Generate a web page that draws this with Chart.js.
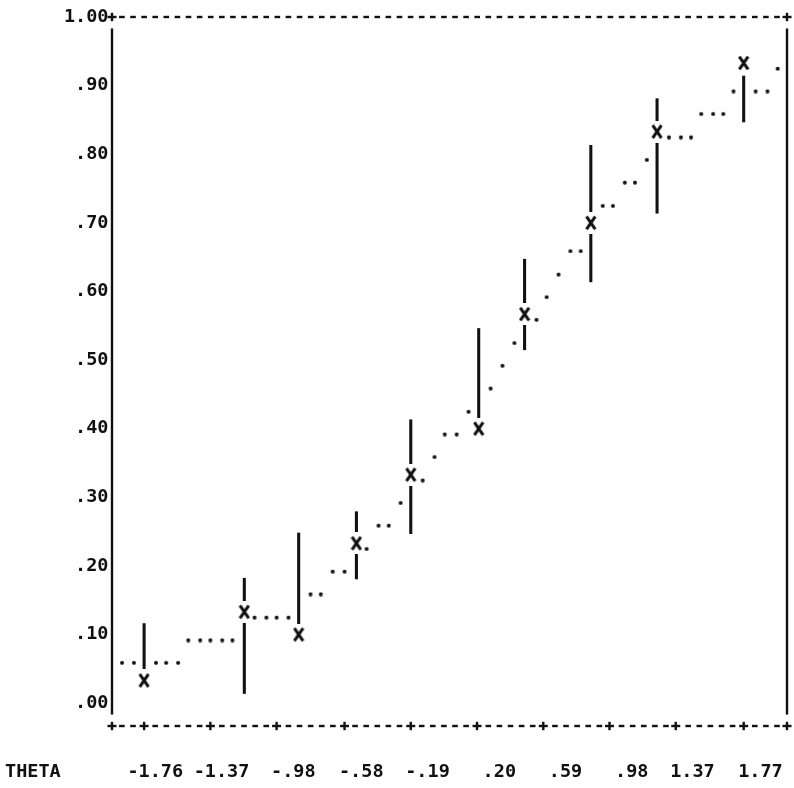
<!DOCTYPE html>
<html>
<head>
<meta charset="utf-8">
<style>
  html, body { margin: 0; padding: 0; background: #fff; }
  #wrap { width: 794px; height: 788px; }
</style>
<script src="https://cdn.jsdelivr.net/npm/chart.js@4.4.1/dist/chart.umd.min.js"></script>
</head>
<body>
<div id="wrap"><canvas id="icc" width="794" height="788"></canvas></div>
<script>
// Item characteristic curve, line-printer style:
// fitted curve (dots), observed proportions (X) and their intervals (vertical bars).

const THETA_TICKS  = [-1.76, -1.37, -0.98, -0.58, -0.19, 0.20, 0.59, 0.98, 1.37, 1.77];
const THETA_LABELS = ['-1.76', '-1.37', '-.98', '-.58', '-.19', '.20', '.59', '.98', '1.37', '1.77'];
const PROB_TICKS   = [0, 0.1, 0.2, 0.3, 0.4, 0.5, 0.6, 0.7, 0.8, 0.9, 1.0];
const PROB_LABELS  = ['.00', '.10', '.20', '.30', '.40', '.50', '.60', '.70', '.80', '.90', '1.00'];

// fitted curve, as printed on the character grid
const curveTheta = [
  -1.89, -1.82, -1.69, -1.63, -1.56,
  -1.50, -1.43, -1.37, -1.30, -1.24,
  -1.11, -1.04, -0.98, -0.91,
  -0.78, -0.72,
  -0.65, -0.58,
  -0.45,
  -0.38, -0.32,
  -0.25,
  -0.12,
  -0.05,
  0.01, 0.08,
  0.15,
  0.28,
  0.35,
  0.42,
  0.55,
  0.61,
  0.68,
  0.75, 0.81,
  0.94, 1.00,
  1.07, 1.13,
  1.20,
  1.33, 1.40, 1.46,
  1.52, 1.59, 1.65,
  1.71, 1.84, 1.91,
  1.97
];
const curveProb = [
  0.067, 0.067, 0.067, 0.067, 0.067,
  0.100, 0.100, 0.100, 0.100, 0.100,
  0.133, 0.133, 0.133, 0.133,
  0.167, 0.167,
  0.200, 0.200,
  0.233,
  0.267, 0.267,
  0.300,
  0.333,
  0.367,
  0.400, 0.400,
  0.433,
  0.467,
  0.500,
  0.533,
  0.567,
  0.600,
  0.633,
  0.667, 0.667,
  0.733, 0.733,
  0.767, 0.767,
  0.800,
  0.833, 0.833, 0.833,
  0.867, 0.867, 0.867,
  0.900, 0.900, 0.900,
  0.933
];

// observed proportions per ability group and their intervals
const obsTheta = [-1.76, -1.17, -0.85, -0.51, -0.19, 0.21, 0.48, 0.87, 1.26, 1.77];
const obsProp  = [0.033, 0.133, 0.100, 0.233, 0.333, 0.400, 0.567, 0.700, 0.833, 0.933];
const bandLow  = [0.048, 0.014, 0.114, 0.181, 0.247, 0.415, 0.515, 0.614, 0.714, 0.847];
const bandHigh = [0.116, 0.182, 0.248, 0.279, 0.413, 0.546, 0.647, 0.813, 0.881, 0.914];

const X_MIN = -1.949, X_MAX = 2.025;
const Y_MIN = -1 / 30, Y_MAX = 1.0;
const COLS_PER_TICK = 6;

const INK = '#111111';
const FONT_FAMILY = '"DejaVu Sans Mono", monospace';
const FONT_SIZE = 18.5;
const FONT = { family: FONT_FAMILY, size: FONT_SIZE, weight: 'bold', lineHeight: 1 };

// '.' printed in its character cell: ink sits near the baseline
function makeDotGlyph() {
  const c = document.createElement('canvas');
  c.width = 6; c.height = 16;
  const g = c.getContext('2d');
  g.fillStyle = INK;
  g.beginPath();
  g.arc(3, 8 + 5.8, 2.0, 0, Math.PI * 2);
  g.fill();
  return c;
}

// 'X' printed in its own cell, overprinting whatever was under it
function makeCrossGlyph() {
  const c = document.createElement('canvas');
  c.width = 12; c.height = 22;
  const g = c.getContext('2d');
  g.fillStyle = '#ffffff';
  g.fillRect(0, 0, 12, 22);
  g.strokeStyle = INK;
  g.lineWidth = 3;
  g.lineCap = 'butt';
  g.beginPath();
  g.moveTo(1.6, 4.6); g.lineTo(10.4, 17.4);
  g.moveTo(10.4, 4.6); g.lineTo(1.6, 17.4);
  g.stroke();
  return c;
}

// dashed top/bottom lines with '+' marks, vertical side rules, THETA caption
const printerFrame = {
  id: 'printerFrame',
  afterDraw(chart) {
    const { ctx, chartArea: a, scales: { x, y } } = chart;
    const p0 = x.getPixelForValue(THETA_TICKS[0]);
    const p1 = x.getPixelForValue(THETA_TICKS[THETA_TICKS.length - 1]);
    const col = (p1 - p0) / ((THETA_TICKS.length - 1) * COLS_PER_TICK);
    const row = (y.getPixelForValue(0) - y.getPixelForValue(1)) / 30;
    const tickPx = THETA_TICKS.map(v => x.getPixelForValue(v));

    ctx.save();
    ctx.fillStyle = INK;
    const dash = (cx, cy) => ctx.fillRect(cx - 2.8, cy - 1.2, 5.6, 2.4);
    const plus = (cx, cy) => {
      ctx.fillRect(cx - 4.5, cy - 1.2, 9, 2.4);
      ctx.fillRect(cx - 1.2, cy - 4.2, 2.4, 8.4);
    };

    const kStart = Math.ceil((a.left + col * 0.6 - p0) / col);
    const kEnd = Math.floor((a.right - col * 0.6 - p0) / col);
    for (let k = kStart; k <= kEnd; k++) {
      const cx = p0 + k * col;
      dash(cx, a.top);
      const isTick = tickPx.some(t => Math.abs(t - cx) < col / 2);
      if (!isTick) dash(cx, a.bottom);
    }
    tickPx.forEach(t => plus(t, a.bottom));
    plus(a.left, a.top); plus(a.right, a.top);
    plus(a.left, a.bottom); plus(a.right, a.bottom);

    // side rules stop half a row short of the dashed lines
    const yTop = a.top + row / 2, yBot = a.bottom - row / 2;
    ctx.fillRect(a.left - 1.2, yTop, 2.4, yBot - yTop);
    ctx.fillRect(a.right - 1.2, yTop, 2.4, yBot - yTop);

    ctx.font = `bold ${FONT_SIZE}px ${FONT_FAMILY}`;
    ctx.textAlign = 'left';
    ctx.textBaseline = 'middle';
    ctx.fillText('THETA', 5, a.bottom + 2 * row);
    ctx.restore();
  }
};

const dotGlyph = makeDotGlyph();
const crossGlyph = makeCrossGlyph();

new Chart(document.getElementById('icc'), {
  type: 'scatter',
  data: {
    datasets: [
      {
        type: 'scatter',
        label: 'Observed',
        data: obsTheta.map((t, i) => ({ x: t, y: obsProp[i] })),
        pointStyle: crossGlyph,
        pointRadius: 6,
        order: 0
      },
      {
        type: 'scatter',
        label: 'Fitted',
        data: curveTheta.map((t, i) => ({ x: t, y: curveProb[i] })),
        pointStyle: dotGlyph,
        pointRadius: 3,
        order: 1
      },
      {
        type: 'bar',
        label: 'Interval',
        data: obsTheta.map((t, i) => ({ x: t, y: [bandLow[i], bandHigh[i]] })),
        backgroundColor: INK,
        borderWidth: 0,
        barThickness: 2.4,
        order: 2
      }
    ]
  },
  options: {
    responsive: false,
    animation: false,
    events: [],
    layout: { padding: { top: 17, right: 4, left: 0, bottom: 0 } },
    plugins: { legend: { display: false }, tooltip: { enabled: false }, title: { display: false } },
    scales: {
      x: {
        type: 'linear',
        min: X_MIN,
        max: X_MAX,
        offset: false,
        grid: { display: false, drawTicks: false, offset: false },
        border: { display: false },
        afterBuildTicks: s => { s.ticks = THETA_TICKS.map(v => ({ value: v })); },
        afterFit: s => { s.height = 62; s.paddingLeft = 0; s.paddingRight = 0; },
        ticks: {
          autoSkip: false,
          maxRotation: 0,
          minRotation: 0,
          align: 'end',
          labelOffset: 39,
          padding: 36.5,
          color: INK,
          font: FONT,
          callback: (v, i) => THETA_LABELS[i]
        }
      },
      y: {
        type: 'linear',
        min: Y_MIN,
        max: Y_MAX,
        beginAtZero: false,
        grid: { display: false, drawTicks: false },
        border: { display: false },
        afterBuildTicks: s => { s.ticks = PROB_TICKS.map(v => ({ value: v })); },
        afterFit: s => { s.width = 112; },
        ticks: {
          padding: 3.5,
          color: INK,
          font: FONT,
          callback: (v, i) => PROB_LABELS[i]
        }
      }
    }
  },
  plugins: [printerFrame]
});
</script>
</body>
</html>
